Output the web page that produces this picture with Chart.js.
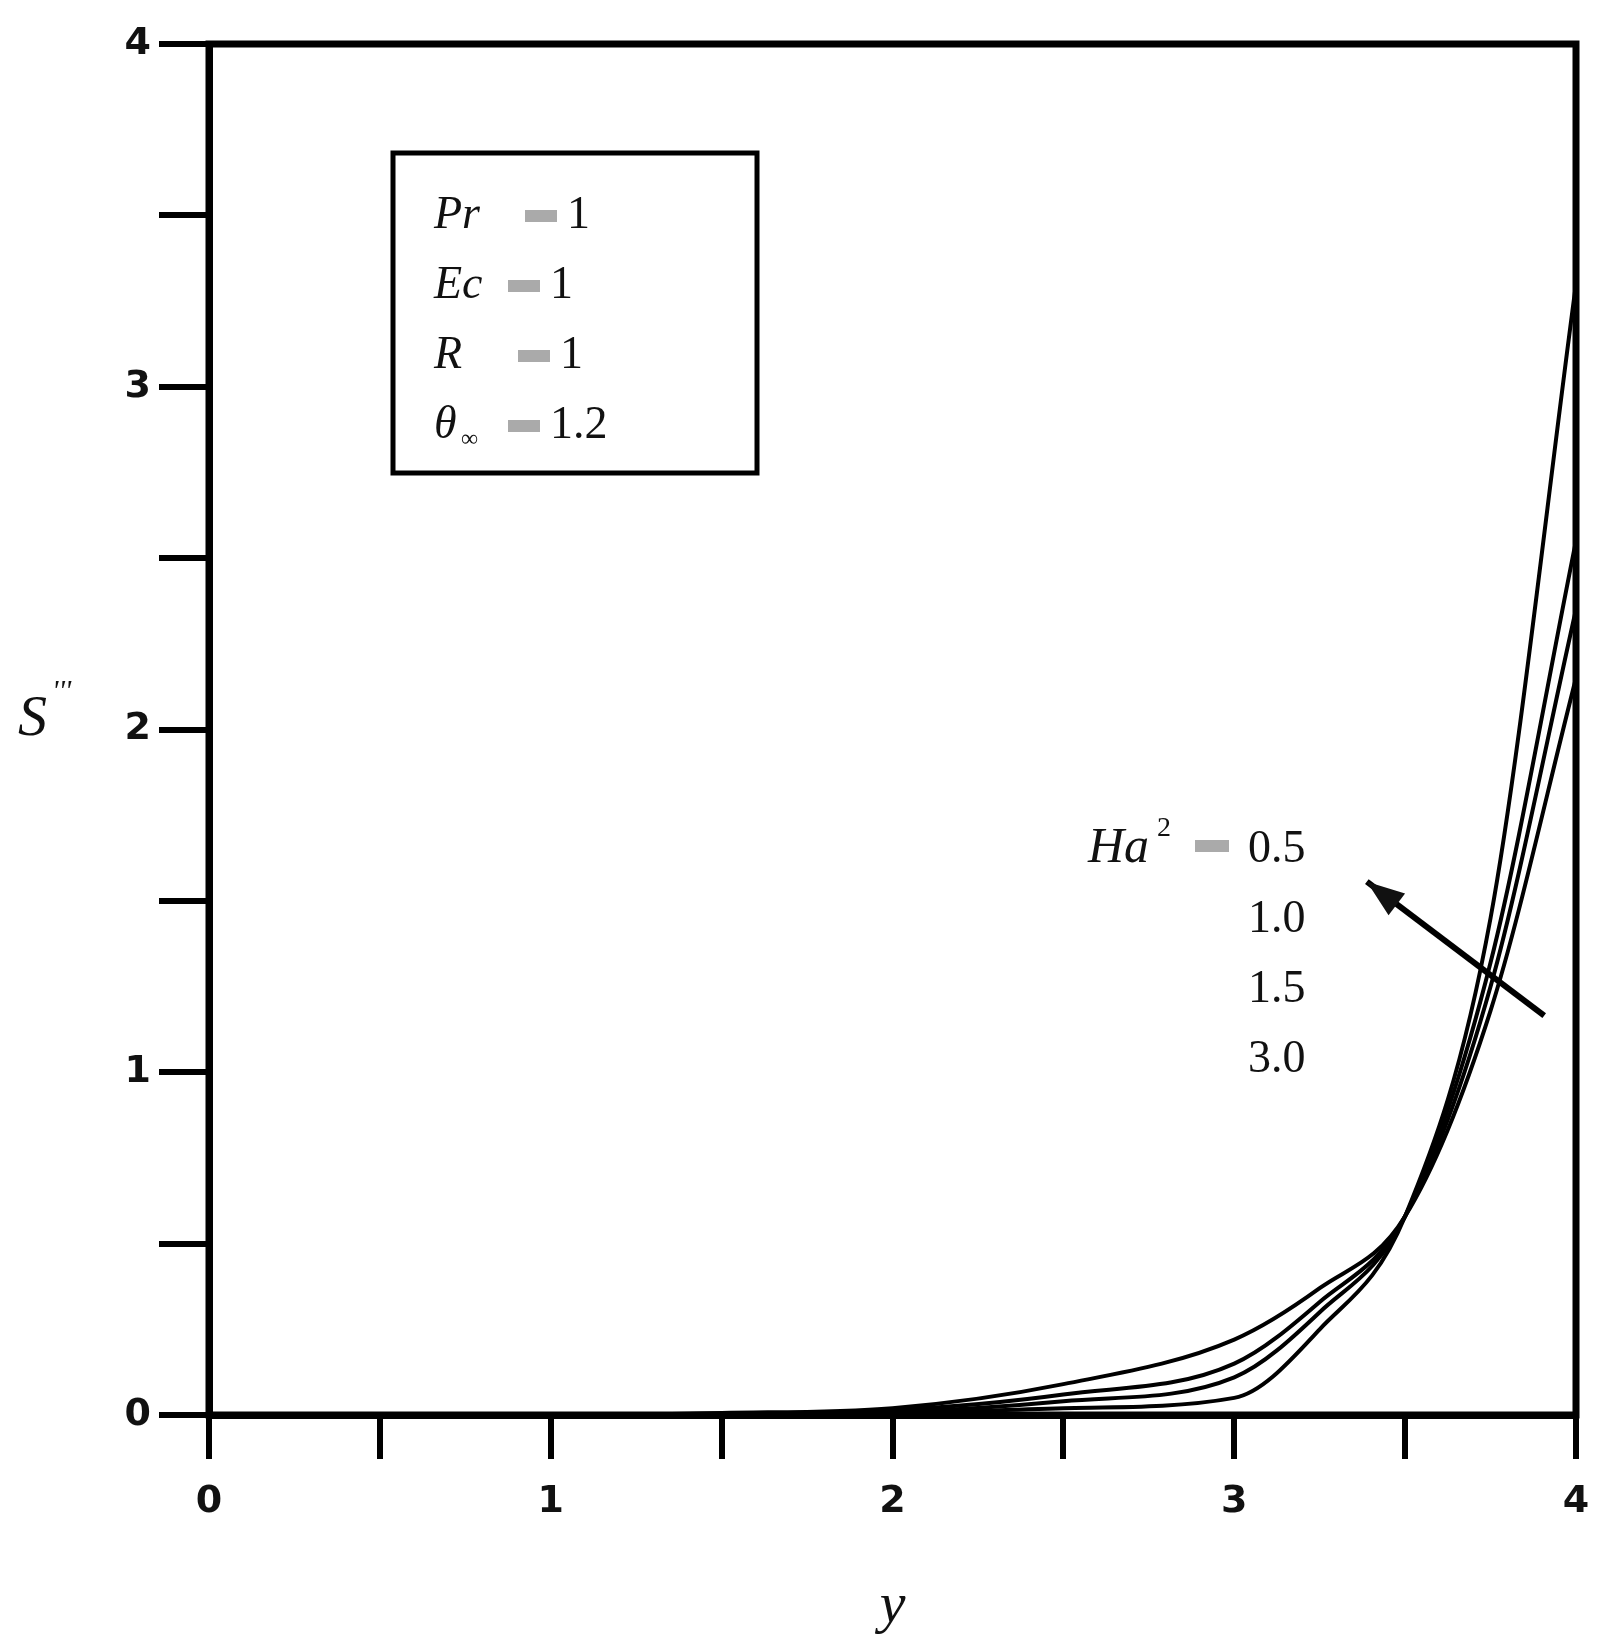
<!DOCTYPE html>
<html><head><meta charset="utf-8">
<script src="https://cdn.jsdelivr.net/npm/chart.js@4"></script>
<style>html,body{margin:0;padding:0;background:#fff}#w{width:1615px;height:1646px}</style>
</head><body><div id="w"><canvas id="c"></canvas></div>
<script>
const xValues = [0,0.5,1,1.5,2,2.5,3,3.25,3.5,3.75,4];
const seriesA = [0,0,0,0,0.003,0.02,0.05,0.25,0.58,1.45,3.3];
const seriesB = [0,0,0,0.002,0.008,0.04,0.11,0.3,0.58,1.32,2.55];
const seriesC = [0,0,0,0.004,0.014,0.06,0.15,0.33,0.58,1.25,2.35];
const seriesD = [0,0,0,0.006,0.02,0.09,0.22,0.37,0.58,1.18,2.15];
const haLabels = ['0.5','1.0','1.5','3.0'];
const paramLines = ['Pr','Ec','R','θ'];
const paramValues = ['1','1','1','1.2'];

const mk = d => ({data: xValues.map((x,i)=>({x, y:d[i]})), borderColor:'#000', borderWidth:4, pointRadius:0, fill:false, cubicInterpolationMode:'monotone'});

const deco = {
  id:'deco',
  afterDraw(ch){
    const c=ch.ctx, a=ch.chartArea, xs=ch.scales.x, ys=ch.scales.y;
    c.save();
    c.strokeStyle='#000'; c.lineWidth=7;
    c.strokeRect(a.left,a.top,a.right-a.left,a.bottom-a.top);
    c.lineWidth=5; c.strokeRect(393,153,364,320);
    const ys0=[228,298,368,438];
    const barX=[525,508,518,508];
    paramLines.forEach((t,i)=>{
      c.fillStyle='#111'; c.font='italic 46px "Liberation Serif"';
      c.fillText(t,434,ys0[i]);
      if(i==3){c.font='24px "Liberation Serif"'; c.fillText('∞',461,ys0[i]+8);}
      c.fillStyle='#aaa'; c.fillRect(barX[i],ys0[i]-18,32,12);
      c.fillStyle='#111'; c.font='46px "Liberation Serif"';
      c.fillText(paramValues[i], barX[i]+42, ys0[i]);
    });
    // y axis title
    c.font='italic 58px "Liberation Serif"'; c.fillText('S',18,735);
    c.font='italic 30px "Liberation Serif"'; c.fillText("'''",52,700);
    // Ha labels
    c.font='italic 50px "Liberation Serif"'; c.fillText('Ha',1088,862);
    c.font='28px "Liberation Serif"'; c.fillText('2',1157,836);
    c.fillStyle='#aaa'; c.fillRect(1195,840,34,12);
    c.fillStyle='#111'; c.font='46px "Liberation Serif"';
    haLabels.forEach((t,i)=>c.fillText(t,1248,862+70*i));
    const x1=xs.getPixelForValue(3.907), y1=ys.getPixelForValue(1.165);
    const x2=xs.getPixelForValue(3.388), y2=ys.getPixelForValue(1.556);
    c.lineWidth=6; c.beginPath(); c.moveTo(x1,y1); c.lineTo(x2,y2); c.stroke();
    const ang=Math.atan2(y2-y1,x2-x1);
    c.beginPath(); c.moveTo(x2,y2);
    c.lineTo(x2-40*Math.cos(ang-0.35),y2-40*Math.sin(ang-0.35));
    c.lineTo(x2-40*Math.cos(ang+0.35),y2-40*Math.sin(ang+0.35));
    c.closePath(); c.fill();
    c.restore();
  }
};

const tickFont={family:'DejaVu Sans',size:38,weight:'bold'};
new Chart(document.getElementById('c'),{
  type:'line',
  data:{datasets:[mk(seriesA),mk(seriesB),mk(seriesC),mk(seriesD)]},
  options:{
    responsive:true, maintainAspectRatio:false, animation:false,
    layout:{padding:{top:44,right:39,left:0,bottom:0}},
    plugins:{legend:{display:false},tooltip:{enabled:false}},
    scales:{
      x:{type:'linear',min:0,max:4,
        afterFit(s){s.height=231;},
        ticks:{stepSize:0.5,color:'#111',font:tickFont,padding:20,maxRotation:0,autoSkip:false,callback:v=>Number.isInteger(v)?v:''},
        grid:{drawOnChartArea:false,drawTicks:true,tickLength:44,lineWidth:6,color:'#000'},
        border:{width:7,color:'#000'},
        title:{display:true,text:'y',font:{family:'Liberation Serif',style:'italic',size:58},color:'#111',padding:{top:10}}
      },
      y:{min:0,max:4,
        afterFit(s){s.width=209;},
        ticks:{stepSize:0.5,color:'#111',font:tickFont,padding:8,callback:v=>Number.isInteger(v)?v:''},
        grid:{drawOnChartArea:false,drawTicks:true,tickLength:50,lineWidth:6,color:'#000'},
        border:{width:7,color:'#000'},
        title:{display:false}
      }
    }
  },
  plugins:[deco]
});
</script></body></html>
